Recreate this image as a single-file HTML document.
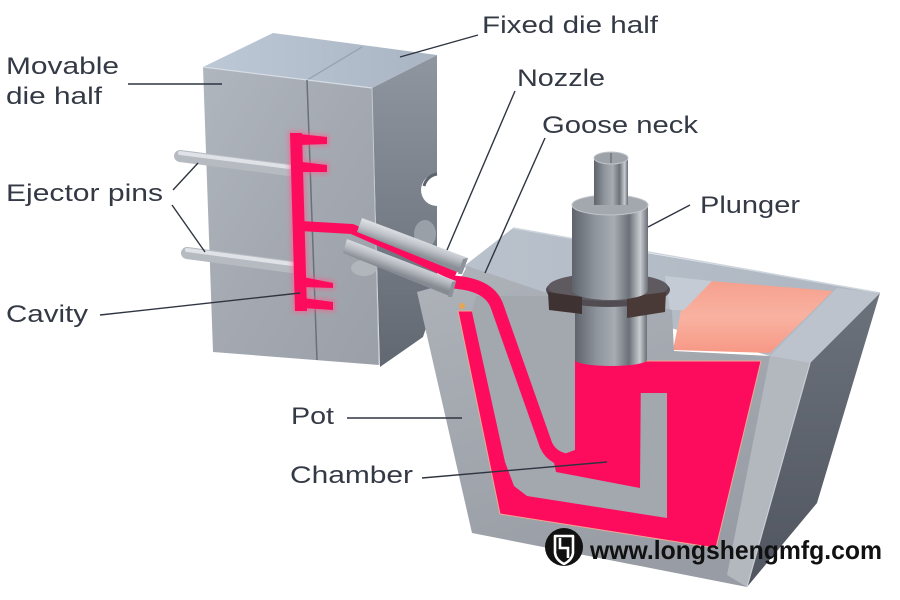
<!DOCTYPE html>
<html><head><meta charset="utf-8">
<style>
html,body{margin:0;padding:0;background:#fff;}
svg{display:block;}
text{font-family:"Liberation Sans",sans-serif;fill:#343a45;}
</style></head><body>
<svg width="900" height="600" viewBox="0 0 900 600" xmlns="http://www.w3.org/2000/svg">
<defs>
 <linearGradient id="dieFront" x1="0" y1="0" x2="1" y2="1">
   <stop offset="0" stop-color="#b0b6be"/>
   <stop offset="0.5" stop-color="#a4a9b1"/>
   <stop offset="1" stop-color="#9ba0a8"/>
 </linearGradient>
 <linearGradient id="dieSide" x1="0" y1="0" x2="0" y2="1">
   <stop offset="0" stop-color="#8f96a0"/>
   <stop offset="1" stop-color="#626871"/>
 </linearGradient>
 <linearGradient id="dieTop" x1="0" y1="0" x2="1" y2="0">
   <stop offset="0" stop-color="#bdc8d6"/>
   <stop offset="1" stop-color="#aab5c3"/>
 </linearGradient>
 <linearGradient id="potFront" x1="0" y1="0" x2="0.4" y2="1">
   <stop offset="0" stop-color="#aeb2b9"/>
   <stop offset="1" stop-color="#989ca4"/>
 </linearGradient>
 <linearGradient id="potSide" x1="0" y1="0" x2="0" y2="1">
   <stop offset="0" stop-color="#6c727c"/>
   <stop offset="1" stop-color="#50555f"/>
 </linearGradient>
 <linearGradient id="potTop" x1="0" y1="0" x2="1" y2="0">
   <stop offset="0" stop-color="#b9c1cc"/>
   <stop offset="1" stop-color="#aeb6c1"/>
 </linearGradient>
 <linearGradient id="salmon" x1="0" y1="0" x2="0" y2="1">
   <stop offset="0" stop-color="#f6a08e"/>
   <stop offset="0.5" stop-color="#f9b2a0"/>
   <stop offset="1" stop-color="#f79886"/>
 </linearGradient>
 <linearGradient id="cyl" x1="0" y1="0" x2="1" y2="0">
   <stop offset="0" stop-color="#5f646c"/>
   <stop offset="0.3" stop-color="#8e949c"/>
   <stop offset="0.55" stop-color="#a7acb3"/>
   <stop offset="0.75" stop-color="#6c7179"/>
   <stop offset="0.9" stop-color="#c8ccd1"/>
   <stop offset="1" stop-color="#696e76"/>
 </linearGradient>
 <linearGradient id="bar1" gradientUnits="userSpaceOnUse" x1="412" y1="236" x2="407" y2="251">
   <stop offset="0" stop-color="#dcdfe3"/>
   <stop offset="0.45" stop-color="#c0c4ca"/>
   <stop offset="1" stop-color="#8b9098"/>
 </linearGradient>
 <linearGradient id="bar2" gradientUnits="userSpaceOnUse" x1="402" y1="259" x2="397" y2="273">
   <stop offset="0" stop-color="#d6d9de"/>
   <stop offset="0.45" stop-color="#b9bdc3"/>
   <stop offset="1" stop-color="#868b93"/>
 </linearGradient>
 <filter id="glow" x="-30%" y="-30%" width="160%" height="160%"><feGaussianBlur stdDeviation="2.5"/></filter>
</defs>

<rect width="900" height="600" fill="#fff"/>

<!-- ===== DIE BLOCK ===== -->
<polygon points="372,88 437,55 437,295 423,337 380,367" fill="url(#dieSide)"/>
<path d="M437,174 A16,16 0 0 0 437,206 Z" fill="#fff"/>
<path d="M437,174 A16,16 0 0 0 424,186" fill="none" stroke="#5d636c" stroke-width="3"/>
<polygon points="203,67 273,33 437,55 372,88" fill="url(#dieTop)"/>
<line x1="307" y1="80" x2="362" y2="47" stroke="#96a0ac" stroke-width="1.2"/>
<polygon points="203,67 372,88 379,365 213,352" fill="url(#dieFront)"/>
<line x1="203" y1="67" x2="372" y2="88" stroke="#d6dce3" stroke-width="1.2"/>
<line x1="372" y1="88" x2="379" y2="365" stroke="#c4c9cf" stroke-width="1"/>
<line x1="307" y1="80" x2="317" y2="360" stroke="#6a7078" stroke-width="1.5"/>

<!-- nozzle seat -->
<ellipse cx="425" cy="234" rx="11" ry="14" fill="#9aa0a8"/>

<!-- ejector pins -->
<line x1="180" y1="156" x2="289" y2="170" stroke="#b6bbc2" stroke-width="12" stroke-linecap="round"/>
<line x1="180" y1="153" x2="289" y2="167" stroke="#dfe2e6" stroke-width="4" stroke-linecap="round"/>
<line x1="187" y1="253" x2="292" y2="267" stroke="#b6bbc2" stroke-width="12" stroke-linecap="round"/>
<line x1="187" y1="250" x2="292" y2="264" stroke="#dfe2e6" stroke-width="4" stroke-linecap="round"/>

<!-- cavity glow + cavity -->
<g filter="url(#glow)" opacity="0.6" fill="#ff5a8a">
  <polygon points="288,131 304,131 309,313 293,313"/>
  <polygon points="288,131 329,135 329,146 300,146"/>
  <polygon points="300,160 329,163 329,174 300,174"/>
  <polygon points="300,275 335,281 335,290 300,289"/>
  <polygon points="300,296 335,300 335,312 300,310"/>
</g>
<g fill="#fd0c5e">
  <polygon points="290,133 302,133 307,311 295,311"/>
  <polygon points="290,133 327,137 327,144 300,145"/>
  <polygon points="302,162 327,165 327,172 302,172"/>
  <polygon points="303,277 333,283 333,288 303,287"/>
  <polygon points="303,298 333,302 333,310 303,308"/>
</g>
<path d="M300,226 L352,229 L400,250 L455,276" fill="none" stroke="#fd0c5e" stroke-width="10" stroke-linejoin="round"/>

<!-- ===== POT ===== -->
<polygon points="810,363 880,293 817,503 747,587" fill="url(#potSide)"/>
<polygon points="463,267 513,228 647,253 880,293 810,363 770,356 547,293" fill="url(#potTop)"/>
<line x1="513" y1="228" x2="880" y2="293" stroke="#cfd5dc" stroke-width="1.5"/>
<polygon points="683,300 710,281 833,291 770,353 673,350" fill="url(#salmon)"/>
<polygon points="770,356 810,363 880,293 837,288" fill="#bcc3cc"/>
<polygon points="665,276 712,281 684,310 670,310" fill="#c4cbd4"/>

<!-- front face -->
<polygon points="417,292 460,280 467,266 547,293 648,304 672,310 674,351 770,356 810,363 747,587 472,533" fill="url(#potFront)"/>
<polygon points="770,356 810,363 747,587 727,575" fill="#b3b8bf"/>
<line x1="810" y1="363" x2="747" y2="587" stroke="#c9ced4" stroke-width="1.2"/>

<!-- bath pink -->
<polygon points="458,311 474,311 560,345 575,361 761,361 716,548 500,514" fill="#fd0c5e" stroke="#f2a692" stroke-width="1"/>
<!-- gooseneck gray -->
<polygon points="472,312 476,296 575,296 575,361 640,361 640,393 667,393 667,518 527,496 514,486 505,462" fill="#a3a7ae"/>
<!-- chamber pink -->
<polygon points="575,360 641,360 640,488 556,472 553,458 575,450" fill="#fd0c5e"/>
<!-- channel -->
<path d="M452,282 Q489,284 497,306 L546,445 Q553,461 576,461" fill="none" stroke="#fd0c5e" stroke-width="13" stroke-linejoin="round"/>

<!-- ===== NOZZLE ===== -->
<ellipse cx="364" cy="268" rx="13" ry="8" fill="#b1b6bc"/>
<polygon points="347,239 456,281 452,297 343,253" fill="url(#bar2)"/>
<polygon points="452,282 456,281 452,297 448,297" fill="#8e939b"/>
<polygon points="362,218 468,258 462,274 357,232" fill="url(#bar1)"/>
<polygon points="463,259 468,258 462,274 458,274" fill="#8e939b"/>
<circle cx="462" cy="306" r="3" fill="#f5a23a" opacity="0.8"/>

<!-- ===== PLUNGER ===== -->
<path d="M575,300 L575,360 A36,6 0 0 0 647,360 L647,300 Z" fill="url(#cyl)"/>
<ellipse cx="608" cy="290" rx="62" ry="17" fill="#514c51"/>
<ellipse cx="608" cy="287" rx="60" ry="14" fill="#5e5a60"/>
<polygon points="548,292 582,297 582,314 549,310" fill="#3f3232"/>
<polygon points="627,297 666,292 665,312 627,318" fill="#4a3a37"/>
<path d="M572,205 L572,290 A38,10 0 0 0 648,290 L648,205 Z" fill="url(#cyl)"/>
<ellipse cx="610" cy="205" rx="38" ry="10" fill="#a3a8af" stroke="#c2c6cb" stroke-width="1"/>
<path d="M594,158 L594,205 L628,205 L628,158 Z" fill="url(#cyl)"/>
<ellipse cx="611" cy="158" rx="17" ry="6" fill="#9ea3aa" stroke="#c0c4c9" stroke-width="1"/>
<line x1="611" y1="153" x2="611" y2="163" stroke="#6f747c" stroke-width="1.5"/>

<!-- ===== LEADER LINES ===== -->
<g stroke="#2f3540" stroke-width="1.4" fill="none">
  <line x1="128" y1="84" x2="222" y2="84"/>
  <line x1="173" y1="190" x2="198" y2="163"/>
  <line x1="172" y1="205" x2="205" y2="252"/>
  <line x1="100" y1="315" x2="300" y2="293"/>
  <line x1="400" y1="57" x2="478" y2="35"/>
  <line x1="515" y1="91" x2="447" y2="250"/>
  <line x1="545" y1="138" x2="485" y2="273"/>
  <line x1="690" y1="205" x2="648" y2="227"/>
  <line x1="347" y1="418" x2="462" y2="418"/>
  <line x1="422" y1="478" x2="607" y2="462"/>
</g>

<!-- ===== LABELS ===== -->
<g font-size="24">
  <text x="6" y="74" textLength="113" lengthAdjust="spacingAndGlyphs">Movable</text>
  <text x="6" y="104" textLength="96" lengthAdjust="spacingAndGlyphs">die half</text>
  <text x="6" y="201" textLength="157" lengthAdjust="spacingAndGlyphs">Ejector pins</text>
  <text x="6" y="322" textLength="82" lengthAdjust="spacingAndGlyphs">Cavity</text>
  <text x="482" y="33" textLength="176" lengthAdjust="spacingAndGlyphs">Fixed die half</text>
  <text x="517" y="86" textLength="88" lengthAdjust="spacingAndGlyphs">Nozzle</text>
  <text x="542" y="133" textLength="156" lengthAdjust="spacingAndGlyphs">Goose neck</text>
  <text x="700" y="213" textLength="100" lengthAdjust="spacingAndGlyphs">Plunger</text>
  <text x="291" y="424" textLength="43" lengthAdjust="spacingAndGlyphs">Pot</text>
  <text x="290" y="483" textLength="123" lengthAdjust="spacingAndGlyphs">Chamber</text>
</g>

<!-- ===== LOGO ===== -->
<circle cx="564" cy="547" r="19" fill="#111"/>
<path d="M555,536 L555,553 Q556,560 564,564 Q572,560 573,553 L573,536 Z" fill="none" stroke="#fff" stroke-width="2.6" stroke-linejoin="round"/>
<path d="M560,538 L560,548 L568,548 L568,558" fill="none" stroke="#fff" stroke-width="2.6"/>
<text x="590" y="559" font-size="26" font-weight="bold" textLength="292" lengthAdjust="spacingAndGlyphs" style="fill:#111">www.longshengmfg.com</text>
</svg>
</body></html>
